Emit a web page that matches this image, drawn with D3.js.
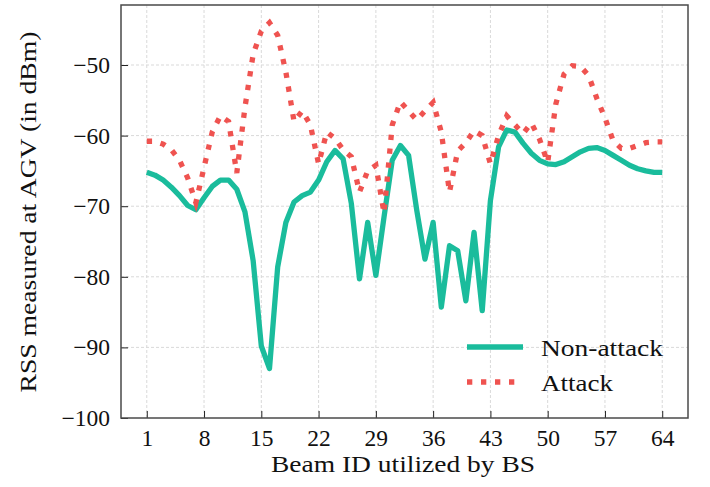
<!DOCTYPE html>
<html>
<head>
<meta charset="utf-8">
<script src="https://cdn.jsdelivr.net/npm/d3@7"></script>
<style>
  body { margin: 0; background: #fff; }
  svg text { font-family: "Liberation Serif", "DejaVu Serif", serif; fill: #111; }
  .grid line { stroke: #d9d9d9; stroke-width: 1; stroke-dasharray: 3 2; }
</style>
</head>
<body>
<svg id="chart" width="710" height="487"></svg>
<script>
// beam ids 1..64
const beamIds = d3.range(1, 65);

const nonAttack = [
  -65.2, -65.6, -66.3, -67.3, -68.5, -69.9, -70.5, -68.8, -67.2, -66.3,
  -66.3, -67.6, -70.8, -77.7, -89.8, -93.0, -78.6, -72.3, -69.4, -68.5,
  -68.0, -66.3, -63.7, -62.1, -63.3, -69.6, -80.3, -72.3, -79.8, -71.5,
  -63.5, -61.4, -62.8, -70.6, -77.5, -72.3, -84.3, -75.6, -76.3, -83.4,
  -73.7, -84.8, -69.2, -61.6, -59.2, -59.5, -61.1, -62.5, -63.5, -64.0,
  -64.1, -63.7, -63.0, -62.3, -61.8, -61.7, -62.1, -62.8, -63.5, -64.2,
  -64.7, -65.0, -65.2, -65.2
];

const attack = [
  -60.8, -60.8, -61.2, -62.0, -63.5, -66.0, -69.5, -64.5, -59.5, -57.2,
  -58.0, -65.3, -56.0, -48.5, -45.2, -44.0, -45.8, -51.0, -58.0, -56.5,
  -58.5, -64.0, -59.5, -60.4, -62.0, -63.0, -68.0, -65.0, -64.2, -71.0,
  -58.5, -55.2, -56.5, -57.8, -56.5, -55.3, -59.5, -68.0, -62.2, -61.0,
  -59.3, -60.0, -64.0, -60.0, -57.2, -58.5, -59.7, -58.2, -60.5, -63.8,
  -55.5, -51.3, -50.1, -50.2, -51.5, -54.7, -57.5, -60.7, -61.8, -61.8,
  -61.4, -61.0, -60.9, -60.9
];

const xTicks = [1, 8, 15, 22, 29, 36, 43, 50, 57, 64];
const yTicks = [-100, -90, -80, -70, -60, -50];

const width = 710, height = 487;
const margin = {top: 5, right: 22, bottom: 69, left: 121};
const fontSize = 23.5;

const svg = d3.select("#chart");

const x = d3.scaleLinear().domain([-2.15, 67.15]).range([margin.left, width - margin.right]);
const y = d3.scaleLinear().domain([-100, -41.5]).range([height - margin.bottom, margin.top]);

// grid
const grid = svg.append("g").attr("class", "grid");
grid.selectAll(".gx").data(xTicks).join("line")
  .attr("x1", d => x(d)).attr("x2", d => x(d))
  .attr("y1", margin.top).attr("y2", height - margin.bottom);
grid.selectAll(".gy").data(yTicks.slice(1)).join("line")
  .attr("x1", margin.left).attr("x2", width - margin.right)
  .attr("y1", d => y(d)).attr("y2", d => y(d));

// lines
const line = data => d3.line()
  .x((d, i) => x(beamIds[i]))
  .y(d => y(d))(data);

svg.append("path")
  .attr("d", line(nonAttack))
  .attr("fill", "none")
  .attr("stroke", "#1abc9c")
  .attr("stroke-width", 5.3)
  .attr("stroke-linejoin", "round");

svg.append("path")
  .attr("d", line(attack))
  .attr("fill", "none")
  .attr("stroke", "#ef5350")
  .attr("stroke-width", 5.3)
  .attr("stroke-dasharray", "5.3 8.7");

// axes (ticks pointing inward)
const fmt = d => d < 0 ? "\u2212" + Math.abs(d) : String(d);

const xAxis = svg.append("g")
  .attr("transform", `translate(0,${height - margin.bottom})`)
  .call(d3.axisBottom(x).tickValues(xTicks).tickSize(-7).tickPadding(11).tickFormat(fmt));

const yAxis = svg.append("g")
  .attr("transform", `translate(${margin.left},0)`)
  .call(d3.axisLeft(y).tickValues(yTicks).tickSize(-7).tickPadding(11).tickFormat(fmt));

[xAxis, yAxis].forEach(g => {
  g.select(".domain").remove();
  g.selectAll(".tick line").attr("stroke", "#222").attr("stroke-width", 1);
  g.selectAll(".tick text").attr("font-size", fontSize).attr("fill", "#111")
    .style("font-family", "Liberation Serif, serif");
});

// frame
svg.append("rect")
  .attr("x", margin.left).attr("y", margin.top)
  .attr("width", width - margin.left - margin.right)
  .attr("height", height - margin.top - margin.bottom)
  .attr("fill", "none").attr("stroke", "#4a4a4a").attr("stroke-width", 1.5);

// labels
svg.append("text")
  .attr("x", 403)
  .attr("y", 472)
  .attr("text-anchor", "middle")
  .attr("font-size", fontSize)
  .attr("textLength", 264)
  .attr("lengthAdjust", "spacingAndGlyphs")
  .text("Beam ID utilized by BS");

svg.append("text")
  .attr("transform", `translate(36,212) rotate(-90)`)
  .attr("text-anchor", "middle")
  .attr("font-size", fontSize)
  .attr("textLength", 361)
  .attr("lengthAdjust", "spacingAndGlyphs")
  .text("RSS measured at AGV (in dBm)");

// legend
const legend = [
  {label: "Non-attack", color: "#1abc9c", dash: null, y: 347, w: 122},
  {label: "Attack", color: "#ef5350", dash: "5.3 8.7", y: 382, w: 72}
];
const lg = svg.append("g");
legend.forEach(d => {
  lg.append("line")
    .attr("x1", 467).attr("x2", 523).attr("y1", d.y).attr("y2", d.y)
    .attr("stroke", d.color).attr("stroke-width", 5.3)
    .attr("stroke-dasharray", d.dash);
  lg.append("text")
    .attr("x", 541).attr("y", d.y + 9)
    .attr("font-size", fontSize)
    .attr("textLength", d.w)
    .attr("lengthAdjust", "spacingAndGlyphs")
    .text(d.label);
});
</script>
</body>
</html>
